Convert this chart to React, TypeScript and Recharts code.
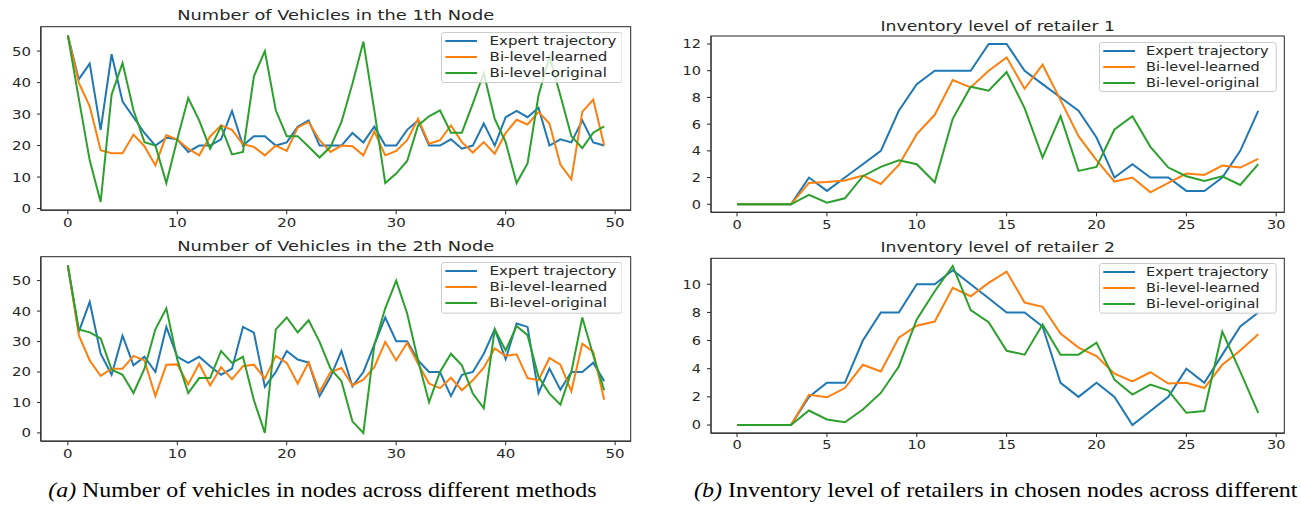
import { LineChart, Line, XAxis, YAxis, Legend } from 'recharts'

const SERIES_NAMES = ['Expert trajectory', 'Bi-level-learned', 'Bi-level-original']
const SERIES_KEYS = ['expert', 'learned', 'original']
const COLORS = ['#1f77b4', '#ff7f0e', '#2ca02c']

// number of vehicles, node 1 (steps 0..49)
const node1Expert = [
  55, 41, 46, 25, 49, 34, 29, 24, 20, 22.5,
  22, 18, 20, 20, 22, 31, 20, 23, 23, 20,
  21, 26, 28, 20, 20, 20, 24, 21, 26, 20,
  20, 25, 28, 20, 20, 22, 19, 20, 27, 20,
  29, 31, 29, 32, 20, 22, 21, 28, 21, 20,
]
const node1Learned = [
  55, 40, 32.5, 18.5, 17.6, 17.6, 23.5, 19.8, 13.7, 23.3,
  21.9, 19, 16.9, 22.9, 26.4, 25, 20.4, 19.6, 16.9, 20,
  18.3, 25.7, 27.5, 21.7, 18, 20, 19.8, 16.9, 24.5, 16.9,
  18.3, 21.7, 28.5, 20.6, 21.7, 26.4, 21.1, 17.8, 21.1, 17.4,
  24, 28.2, 26.7, 30.7, 27, 14, 9.3, 30.7, 34.6, 20,
]
const node1Original = [
  55, 35, 15.3, 2.1, 36.2, 46.2, 31.2, 21.1, 20, 8.1,
  22, 35.1, 28, 19, 26.1, 17.2, 18, 42, 50, 31.2,
  23, 23, 19.6, 16.2, 19.6, 27.5, 39.6, 53, 31.2, 8.1,
  11.1, 15.1, 26.4, 29.3, 31.2, 24.1, 24.1, 33.3, 43, 28.5,
  21.1, 8.1, 14.3, 35.9, 48.3, 35.9, 23, 19.2, 24.1, 26.1,
]

// number of vehicles, node 2
const node2Expert = [
  55, 33.2, 43, 26, 19.1, 31.9, 22.2, 25, 20, 34.8,
  25, 23, 25, 21.9, 19.1, 21.1, 34.8, 32.9, 15.1, 20,
  26.9, 24.1, 23.1, 12.1, 18.4, 26.9, 15.3, 20, 29, 37.9,
  30.1, 30.1, 23.8, 20, 20, 12.1, 19.1, 20, 26, 34,
  24.2, 35.9, 34.8, 13.1, 21.1, 14.2, 20, 20, 23, 17,
]
const node2Learned = [
  55, 32.1, 23.8, 18.7, 21.1, 21.1, 25.3, 23.8, 12.1, 22.4,
  22.5, 15.9, 22.7, 15.6, 21.6, 17.6, 21.9, 22.4, 17.8, 25.3,
  23, 16.2, 23.1, 13.4, 20, 21.3, 15.6, 17.5, 21.6, 29.9,
  23.8, 29.6, 22.7, 16.2, 14.7, 18.1, 14, 17.3, 21.4, 27.7,
  25.3, 25.8, 18, 17.3, 24.6, 22.4, 13.7, 29.3, 26.6, 10.9,
]
const node2Original = [
  55, 34, 33, 31, 20.8, 19.1, 13.1, 21.1, 34, 40.9,
  24.1, 13.1, 18, 18, 26.9, 23, 25, 10.7, 0, 34,
  37.9, 33, 37, 29.9, 21.1, 17, 3.8, 0, 28.8, 40.9,
  50, 39.2, 23.8, 10.1, 20, 26, 22.2, 12.9, 8.1, 34,
  27.1, 35.1, 32.1, 18.4, 12.9, 9.3, 20, 37.9, 25.5, 14,
]

// inventory level, retailer 1 (steps 0..29)
const retailer1Expert = [0, 0, 0, 0, 2, 1, 2, 3, 4, 7, 9, 10, 10, 10, 12, 12, 10, 9, 8, 7, 5, 2, 3, 2, 2, 1, 1, 2, 4, 7]
const retailer1Learned = [
  0, 0, 0, 0, 1.6, 1.67, 1.78, 2.15, 1.52, 2.95, 5.25, 6.7, 9.3, 8.75, 10,
  11, 8.65, 10.45, 7.8, 5.1, 3.3, 1.7, 2, 0.9, 1.6, 2.3, 2.2, 2.9, 2.75, 3.4,
]
const retailer1Original = [
  0, 0, 0, 0, 0.7, 0.12, 0.45, 2.1, 2.8, 3.3, 3.0, 1.65, 6.4, 8.8, 8.5,
  9.9, 7.2, 3.5, 6.6, 2.5, 2.8, 5.6, 6.6, 4.3, 2.75, 2.1, 1.75, 2.1, 1.45, 3,
]

// inventory level, retailer 2
const retailer2Expert = [0, 0, 0, 0, 2, 3, 3, 6, 8, 8, 10, 10, 11, 10, 9, 8, 8, 7, 3, 2, 3, 2, 0, 1, 2, 4, 3, 5, 7, 8]
const retailer2Learned = [
  0, 0, 0, 0, 2.15, 1.97, 2.63, 4.28, 3.8, 6.2, 7.05, 7.35, 9.75, 9.15, 10.1,
  10.9, 8.7, 8.4, 6.5, 5.5, 4.9, 3.65, 3.1, 3.75, 2.95, 3, 2.63, 4.28, 5.3, 6.45,
]
const retailer2Original = [
  0, 0, 0, 0, 1.03, 0.4, 0.2, 1.1, 2.28, 4.16, 7.5, 9.5, 11.3, 8.16, 7.3,
  5.27, 5, 7.15, 5, 5, 5.85, 3.22, 2.16, 2.87, 2.45, 0.87, 1, 6.63, 3.8, 0.87,
]

const vehicleXTicks = [0, 10, 20, 30, 40, 50]
const vehicleYTicks = [0, 10, 20, 30, 40, 50]
const inventoryXTicks = [0, 5, 10, 15, 20, 25, 30]
const inventory1YTicks = [0, 2, 4, 6, 8, 10, 12]
const inventory2YTicks = [0, 2, 4, 6, 8, 10]

const titles = [
  'Number of Vehicles in the 1th Node',
  'Number of Vehicles in the 2th Node',
  'Inventory level of retailer 1',
  'Inventory level of retailer 2',
]

const FONT = '"DejaVu Sans", sans-serif'
const SERIF = '"Liberation Serif", "Times New Roman", serif'
const INK = '#262626'
const TICK_FS = 12.3

type Row = { step: number; expert: number; learned: number; original: number }
type Box = { x: number; y: number; w: number; h: number }

function toRows(expert: number[], learned: number[], original: number[]): Row[] {
  return expert.map((v, i) => ({ step: i, expert: v, learned: learned[i], original: original[i] }))
}

function XTick(props: any) {
  const { x, y, payload, sx } = props
  return (
    <text transform={`translate(${x},${y}) scale(${sx},1)`} textAnchor="middle" dy="0.71em"
      fontSize={TICK_FS} fontFamily={FONT} fill={INK}>
      {payload.value}
    </text>
  )
}

function YTick(props: any) {
  const { x, y, payload, sx } = props
  return (
    <text transform={`translate(${x},${y}) scale(${sx},1)`} textAnchor="end" dy="0.36em"
      fontSize={TICK_FS} fontFamily={FONT} fill={INK}>
      {payload.value}
    </text>
  )
}

function LegendBox({ payload, w, h, sx, textX }: any) {
  // keep the plotting order, not the alphabetical one
  const items = [...(payload ?? [])].sort(
    (a: any, b: any) => SERIES_NAMES.indexOf(a.value) - SERIES_NAMES.indexOf(b.value),
  )
  return (
    <svg width={w} height={h} style={{ display: 'block' }}>
      <rect x={0.5} y={0.5} width={w - 1} height={h - 1} rx={2.5} fill="#fff" fillOpacity={0.8} stroke="#cccccc" />
      {items.map((e: any, i: number) => {
        const cy = 9 + i * 16
        return (
          <g key={i}>
            <line x1={4.3} x2={36} y1={cy} y2={cy} stroke={e.color} strokeWidth={2} />
            <text transform={`translate(${textX},${cy}) scale(${sx},1)`} dy="0.36em"
              fontSize={TICK_FS} fontFamily={FONT} fill={INK}>
              {e.value}
            </text>
          </g>
        )
      })}
    </svg>
  )
}

const YW = 60
const MT = 10
const MR = 12
const XH = 30

interface PanelProps {
  frame: Box
  legend: Box
  rows: Row[]
  xDomain: [number, number]
  yDomain: [number, number]
  xTicks: number[]
  yTicks: number[]
  sx: number
  textX: number
}

function Panel({ frame, legend, rows, xDomain, yDomain, xTicks, yTicks, sx, textX }: PanelProps) {
  const left = frame.x - YW
  const top = frame.y - MT
  return (
    <div style={{ position: 'absolute', left, top }}>
      <LineChart width={YW + frame.w + MR} height={MT + frame.h + XH} data={rows}
        margin={{ top: MT, right: MR, bottom: 0, left: 0 }}>
        <XAxis dataKey="step" type="number" domain={xDomain} ticks={xTicks} interval={0} allowDataOverflow
          height={XH} tickSize={4} tickMargin={3.5} stroke={INK} tick={<XTick sx={sx} />} />
        <YAxis type="number" domain={yDomain} ticks={yTicks} interval={0} allowDataOverflow
          width={YW} tickSize={4} tickMargin={6} stroke={INK} tick={<YTick sx={sx} />} />
        <Legend layout="vertical" align="center" verticalAlign="middle"
          wrapperStyle={{ left: legend.x - left, top: legend.y - top, width: legend.w, height: legend.h }}
          content={(p: any) => <LegendBox payload={p.payload} w={legend.w} h={legend.h} sx={sx} textX={textX} />} />
        {SERIES_KEYS.map((k, i) => (
          <Line key={k} dataKey={k} name={SERIES_NAMES[i]} stroke={COLORS[i]} strokeWidth={2}
            dot={false} isAnimationActive={false} />
        ))}
      </LineChart>
    </div>
  )
}

const panels = [
  {
    title: titles[0], titleX: 335.7, titleY: 20, sx: 1.22, textX: 48.6,
    frame: { x: 40.7, y: 26.7, w: 590, h: 183.3 }, legend: { x: 440.7, y: 32, w: 181.6, h: 51 },
    rows: toRows(node1Expert, node1Learned, node1Original),
    xDomain: [-2.45, 51.45] as [number, number], yDomain: [-0.55, 57.65] as [number, number],
    xTicks: vehicleXTicks, yTicks: vehicleYTicks,
  },
  {
    title: titles[1], titleX: 335.7, titleY: 250.7, sx: 1.22, textX: 48.6,
    frame: { x: 40.7, y: 256.7, w: 590, h: 184.3 }, legend: { x: 440.7, y: 262.3, w: 181.6, h: 51.7 },
    rows: toRows(node2Expert, node2Learned, node2Original),
    xDomain: [-2.45, 51.45] as [number, number], yDomain: [-2.75, 57.75] as [number, number],
    xTicks: vehicleXTicks, yTicks: vehicleYTicks,
  },
  {
    title: titles[2], titleX: 997.7, titleY: 30.7, sx: 1.18, textX: 47,
    frame: { x: 711, y: 36, w: 573.3, h: 176.3 }, legend: { x: 1099, y: 42, w: 177.7, h: 50 },
    rows: toRows(retailer1Expert, retailer1Learned, retailer1Original),
    xDomain: [-1.45, 30.45] as [number, number], yDomain: [-0.6, 12.6] as [number, number],
    xTicks: inventoryXTicks, yTicks: inventory1YTicks,
  },
  {
    title: titles[3], titleX: 997.7, titleY: 251.7, sx: 1.18, textX: 47,
    frame: { x: 711, y: 258.3, w: 573.3, h: 175 }, legend: { x: 1099, y: 263.3, w: 177.7, h: 50.7 },
    rows: toRows(retailer2Expert, retailer2Learned, retailer2Original),
    xDomain: [-1.45, 30.45] as [number, number], yDomain: [-0.565, 11.865] as [number, number],
    xTicks: inventoryXTicks, yTicks: inventory2YTicks,
  },
]

export default function App() {
  return (
    <div style={{ position: 'absolute', left: 0, top: 0, width: 1301, height: 506, overflow: 'hidden', background: '#fff' }}>
      {panels.map((p, i) => (
        <Panel key={i} frame={p.frame} legend={p.legend} rows={p.rows} xDomain={p.xDomain} yDomain={p.yDomain}
          xTicks={p.xTicks} yTicks={p.yTicks} sx={p.sx} textX={p.textX} />
      ))}
      <svg width={1301} height={506} style={{ position: 'absolute', left: 0, top: 0, pointerEvents: 'none' }}>
        {/* axes frame (matplotlib spines) */}
        {panels.map((p, i) => (
          <rect key={'f' + i} x={p.frame.x} y={p.frame.y} width={p.frame.w} height={p.frame.h}
            fill="none" stroke={INK} strokeWidth={1} />
        ))}
        {panels.map((p, i) => (
          <text key={'t' + i} transform={`translate(${p.titleX},${p.titleY}) scale(${p.sx},1)`} textAnchor="middle"
            fontSize={14.6} fontFamily={FONT} fill={INK}>
            {p.title}
          </text>
        ))}
        <text transform="translate(48.3,497) scale(1.137,1)" fontSize={21} fontFamily={SERIF} fill="#000">
          <tspan fontStyle="italic">(a)</tspan>{' Number of vehicles in nodes across different methods'}
        </text>
        <text transform="translate(694,497) scale(1.145,1)" fontSize={21} fontFamily={SERIF} fill="#000">
          <tspan fontStyle="italic">(b)</tspan>{' Inventory level of retailers in chosen nodes across different'}
        </text>
      </svg>
    </div>
  )
}
